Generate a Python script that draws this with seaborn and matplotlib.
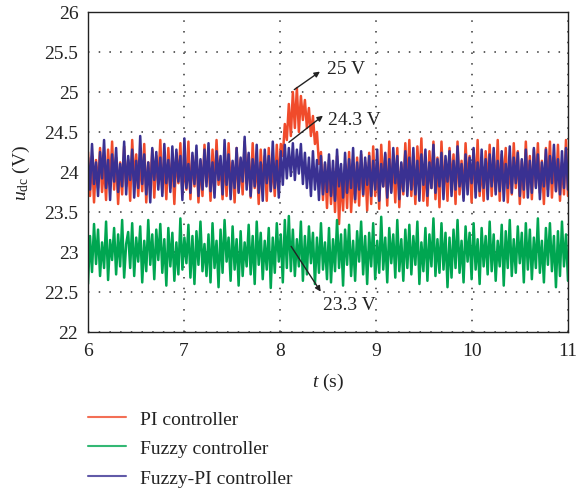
import numpy as np
import pandas as pd
import matplotlib
matplotlib.use("Agg")
import matplotlib.pyplot as plt
import seaborn as sns

# ---- data (deviations in hundredths of a volt) ----
pi_base = 24.0
fuzzy_base = 23.0
fuzzypi_base = 24.0

pi_dev = [
    25,-30,20,-38,15,-20,30,-25,10,-35,28,-15,38,-22,18,-40,12,-28,32,-18,
    15,-36,40,-12,22,-30,18,-24,35,-38,12,-20,28,-32,20,-15,40,-26,14,-34,
    30,-20,16,-40,24,-14,36,-28,12,-22,38,-34,20,-18,26,-38,14,-30,34,-12,
    18,-36,28,-22,40,-16,14,-34,22,-30,36,-18,12,-38,30,-24,16,-28,38,-14,
    22,-32,36,-20,14,-40,28,-16,20,-36,30,-24,12,-30,34,-18,35,20,60,40,
    85,45,100,55,105,50,95,65,90,55,80,45,70,35,50,10,25,-35,10,-45,
    15,-40,5,-50,20,-65,-5,-48,10,-45,25,-50,0,-38,18,-42,22,-30,12,-48,
    24,-40,32,-30,12,-46,34,-18,22,-42,38,-24,14,-38,30,-44,10,-28,36,-20,
    40,-30,16,-40,32,-14,42,-36,12,-42,26,-20,38,-34,18,-44,38,-22,14,-36,
    30,-18,22,-40,38,-28,14,-32,36,-16,20,-38,28,-24,40,-30,12,-36,26,-20,
    34,-30,18,-24,40,-36,22,-14,30,-38,16,-28,36,-20,26,-40,14,-32,38,-22,
    20,-34,28,-18,36,-26,14,-40,30,-22,38,-32,18,-24,34,-36,12,-28,40,-30,
]

fuzzy_dev = [
    -40,20,-25,35,-15,28,-30,12,-20,38,-35,15,-10,30,-28,22,-18,40,-32,10,
    25,-20,36,-30,18,-12,32,-38,14,-24,40,-16,22,-34,28,-10,35,-26,16,-42,
    30,-18,24,-36,12,-28,42,-22,18,-14,34,-32,20,-40,26,-16,38,-24,10,-30,
    22,-38,36,-20,14,-44,28,-26,40,-12,18,-36,32,-22,16,-42,26,-30,12,-18,
    34,-28,20,-40,38,-16,24,-34,14,-22,30,-45,18,-26,36,-12,22,-38,40,-20,
    45,-24,28,-30,16,-18,38,-36,20,-28,32,-14,24,-40,18,-26,36,-22,12,-34,
    30,-38,16,-24,40,-20,22,-42,28,-16,34,-30,14,-36,26,-12,38,-28,20,-40,
    24,-18,36,-34,14,-26,44,-22,18,-38,30,-14,22,-32,40,-24,16,-36,28,-20,
    34,-28,20,-16,38,-40,12,-24,30,-36,22,-18,42,-30,16,-26,36,-22,24,-44,
    18,-32,28,-20,40,-26,14,-38,32,-12,24,-34,36,-22,16,-40,30,-18,20,-28,
    38,-24,22,-36,14,-18,34,-42,26,-20,40,-30,16,-26,32,-14,24,-38,36,-22,
    28,-34,18,-20,42,-26,14,-38,30,-16,36,-24,20,-44,26,-30,38,-18,22,-36,
]

fuzzypi_dev = [
    18,-22,35,-15,12,-30,25,-8,40,-20,15,-35,22,-12,30,-25,10,-18,38,-28,
    20,-10,28,-32,14,-20,45,-15,22,-28,12,-38,30,-10,25,-22,18,-30,35,-14,
    15,-25,32,-18,28,-12,20,-35,42,-20,10,-26,24,-15,33,-30,16,-22,28,-18,
    36,-24,12,-32,26,-10,20,-28,40,-16,22,-34,14,-20,30,-26,18,-12,44,-22,
    24,-30,16,-18,34,-26,12,-36,28,-14,20,-24,38,-20,14,-32,26,-16,34,-8,
    30,-5,36,-10,28,-2,35,-15,24,-20,18,-30,26,-22,15,-35,20,-28,12,-25,
    22,-30,14,-36,28,-18,10,-32,24,-26,16,-20,30,-34,12,-22,26,-28,18,-16,
    20,-30,14,-22,28,-36,10,-18,24,-32,16,-26,30,-14,20,-34,12,-24,26,-30,
    18,-22,30,-28,14,-36,22,-16,28,-30,12,-20,34,-26,16,-18,24,-34,20,-12,
    26,-30,14,-22,32,-18,10,-36,22,-28,18,-14,30,-32,12,-24,28,-20,16,-34,
    22,-18,30,-28,14,-24,26,-36,10,-20,32,-26,18,-14,24,-30,16,-22,28,-32,
    14,-26,30,-20,22,-34,12,-18,28,-30,20,-14,34,-24,16,-28,26,-20,30,-22,
]

labels = ["PI controller", "Fuzzy controller", "Fuzzy-PI controller"]
colors = ["#F04B2B", "#00A651", "#3A3192"]
x_ticks = [6, 7, 8, 9, 10, 11]
y_ticks = [22, 22.5, 23, 23.5, 24, 24.5, 25, 25.5, 26]
y_tick_labels = ["22", "22.5", "23", "23.5", "24", "24.5", "25", "25.5", "26"]

t = np.linspace(6, 11, len(pi_dev))
frames = []
for lab, base, dev in zip(labels, [pi_base, fuzzy_base, fuzzypi_base],
                          [pi_dev, fuzzy_dev, fuzzypi_dev]):
    frames.append(pd.DataFrame({"t": t, "u": base + np.array(dev) / 100.0,
                                "series": lab}))
df = pd.concat(frames, ignore_index=True)

sns.set_theme(style="white")
plt.rcParams["font.family"] = ["Liberation Serif", "DejaVu Serif"]
plt.rcParams["mathtext.fontset"] = "custom"
plt.rcParams["mathtext.rm"] = "Liberation Serif"
plt.rcParams["mathtext.it"] = "Liberation Serif:italic"

fig = plt.figure(figsize=(5.84, 4.89), dpi=100)
ax = fig.add_axes([88 / 584, 1 - 333 / 489, 480 / 584, 320 / 489])

sns.lineplot(data=df, x="t", y="u", hue="series", hue_order=labels,
             palette=colors, sort=False, estimator=None, linewidth=1.8,
             ax=ax)

ax.set_xlim(6, 11)
ax.set_ylim(22, 26)
ax.set_xticks(x_ticks)
ax.set_yticks(y_ticks)
ax.set_yticklabels(y_tick_labels)
ax.tick_params(axis="both", length=0, labelsize=14, colors="#222222", pad=7)
for s in ax.spines.values():
    s.set_color("#222222")
    s.set_linewidth(1.0)
ax.grid(True, color="#333333", linestyle=(0, (1, 6)), linewidth=1.1)
ax.set_axisbelow(True)

ax.set_xlabel("$t$ (s)", fontsize=14, color="#222222", labelpad=9)
ax.set_ylabel(r"$u_{\mathrm{dc}}$ (V)", fontsize=14, color="#222222", labelpad=9)

# annotations
akw = dict(arrowstyle="-|>", color="#222222", lw=1.0, mutation_scale=8)
ax.annotate("25 V", xy=(8.44, 25.275), xytext=(8.49, 25.29),
            fontsize=14, color="#222222", va="center", ha="left")
ax.annotate("", xy=(8.44, 25.275), xytext=(8.125, 25.01), arrowprops=akw)
ax.annotate("24.3 V", xy=(8.47, 24.725), xytext=(8.5, 24.66),
            fontsize=14, color="#222222", va="center", ha="left")
ax.annotate("", xy=(8.47, 24.725), xytext=(8.07, 24.35), arrowprops=akw)
ax.annotate("23.3 V", xy=(8.44, 22.475), xytext=(8.45, 22.34),
            fontsize=14, color="#222222", va="center", ha="left")
ax.annotate("", xy=(8.44, 22.475), xytext=(8.10, 23.1), arrowprops=akw)

handles, labs = ax.get_legend_handles_labels()
ax.legend_.remove()
leg = fig.legend(handles, labs, loc="upper left",
                 bbox_to_anchor=(88 / 584, 1 - 411 / 489), frameon=False,
                 fontsize=14, handlelength=1.95, handletextpad=0.75,
                 labelspacing=0.62, borderpad=0, borderaxespad=0)
for h in leg.get_lines():
    h.set_linewidth(1.5)
    h.set_alpha(0.8)
for txt in leg.get_texts():
    txt.set_color("#222222")

fig.savefig("out.png", dpi=100)
